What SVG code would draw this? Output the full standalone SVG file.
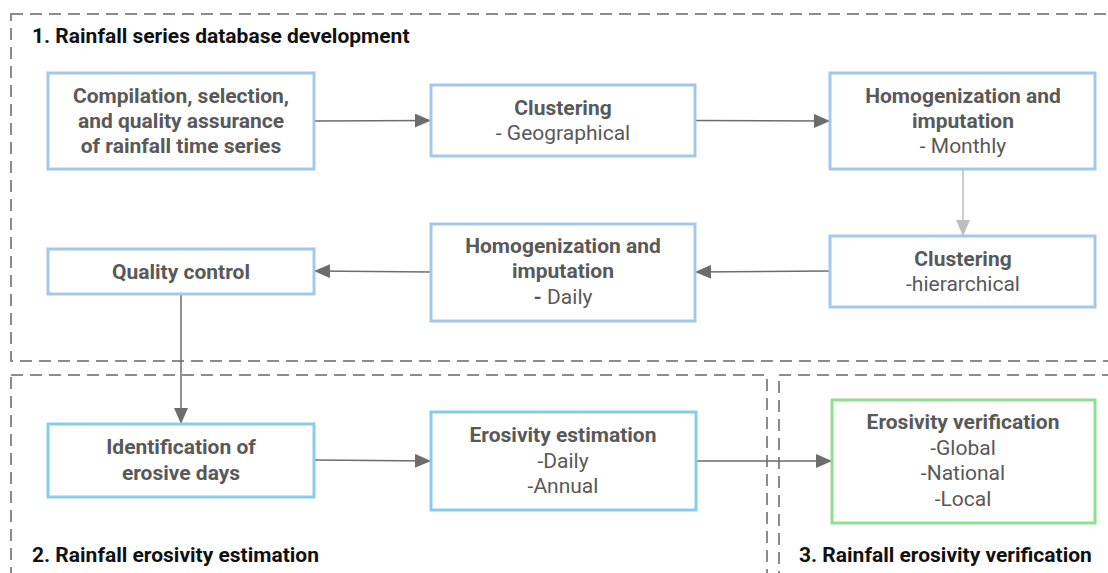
<svg xmlns="http://www.w3.org/2000/svg" width="1108" height="573" viewBox="0 0 1108 573">
<style>
.frame{fill:none;stroke:#8c8c8c;stroke-width:2;stroke-dasharray:12 7}
.box{fill:#fff;stroke:#a4c8ec;stroke-width:3}
.box2{fill:#fff;stroke:#88cbea;stroke-width:3}
.boxg{fill:#fff;stroke:#8fe08f;stroke-width:3}
.t{font-family:Roboto,"Liberation Sans",sans-serif;font-size:21px;fill:#595959;text-anchor:middle}
.b{font-weight:bold}
.h{font-family:Roboto,"Liberation Sans",sans-serif;font-size:21px;font-weight:bold;fill:#111}
.c{fill:none;stroke:#6d6d6d;stroke-width:1.5}
.cl{fill:none;stroke:#bdbdbd;stroke-width:1.5}
</style>
<defs>
<marker id="ah" markerWidth="16" markerHeight="14" refX="16" refY="7" orient="auto" markerUnits="userSpaceOnUse"><path d="M0,0 L16,7 L0,14 Z" fill="#6d6d6d"/></marker>
<marker id="ahl" markerWidth="16" markerHeight="14" refX="16" refY="7" orient="auto" markerUnits="userSpaceOnUse"><path d="M0,0 L16,7 L0,14 Z" fill="#bdbdbd"/></marker>
</defs>
<rect width="1108" height="573" fill="#fff"/>
<g id="frames">
<rect class="frame" x="11" y="14" width="1110" height="347"/>
<rect class="frame" x="11" y="375" width="756" height="220"/>
<rect class="frame" x="779" y="375" width="340" height="220"/>
<text class="h" x="32" y="43">1. Rainfall series database development</text>
<text class="h" x="32" y="562">2. Rainfall erosivity estimation</text>
<text class="h" x="799" y="562">3. Rainfall erosivity verification</text>
</g>
<g id="connectors">
<line class="c" x1="314" y1="121" x2="431" y2="120.5" marker-end="url(#ah)"/>
<line class="c" x1="695" y1="120.5" x2="830" y2="121" marker-end="url(#ah)"/>
<line class="cl" x1="963" y1="169" x2="963" y2="236" marker-end="url(#ahl)"/>
<line class="c" x1="830" y1="271" x2="695" y2="272" marker-end="url(#ah)"/>
<line class="c" x1="431" y1="272" x2="314" y2="271" marker-end="url(#ah)"/>
<line class="c" x1="181" y1="294" x2="181" y2="424" marker-end="url(#ah)"/>
<line class="c" x1="314" y1="460" x2="431" y2="461" marker-end="url(#ah)"/>
<line class="c" x1="696" y1="461" x2="832" y2="461" marker-end="url(#ah)"/>
</g>
<g id="n1"><rect class="box" x="48" y="73" width="266" height="96"/>
<text class="t b" x="181" y="103">Compilation, selection,</text>
<text class="t b" x="181" y="128">and quality assurance</text>
<text class="t b" x="181" y="153">of rainfall time series</text></g>
<g id="n2"><rect class="box" x="431" y="85" width="264" height="71"/>
<text class="t b" x="563" y="115">Clustering</text>
<text class="t" x="563" y="140">- Geographical</text></g>
<g id="n3"><rect class="box" x="830" y="73" width="265" height="96"/>
<text class="t b" x="963" y="103">Homogenization and</text>
<text class="t b" x="963" y="128">imputation</text>
<text class="t" x="963" y="153">- Monthly</text></g>
<g id="n4"><rect class="box" x="830" y="236" width="265" height="71"/>
<text class="t b" x="963" y="266">Clustering</text>
<text class="t" x="963" y="291">-hierarchical</text></g>
<g id="n5"><rect class="box" x="431" y="224" width="264" height="97"/>
<text class="t b" x="563" y="253">Homogenization and</text>
<text class="t b" x="563" y="278">imputation</text>
<text class="t" x="563" y="304"><tspan font-weight="bold">-</tspan> Daily</text></g>
<g id="n6"><rect class="box" x="48" y="249" width="266" height="45"/>
<text class="t b" x="181" y="279">Quality control</text></g>
<g id="n7"><rect class="box2" x="48" y="424" width="266" height="73"/>
<text class="t b" x="181" y="454">Identification of</text>
<text class="t b" x="181" y="480">erosive days</text></g>
<g id="n8"><rect class="box2" x="431" y="412" width="265" height="98"/>
<text class="t b" x="563" y="442">Erosivity estimation</text>
<text class="t" x="563" y="468">-Daily</text>
<text class="t" x="563" y="493">-Annual</text></g>
<g id="n9"><rect class="boxg" x="832" y="400" width="263" height="123"/>
<text class="t b" x="963" y="429">Erosivity verification</text>
<text class="t" x="963" y="455">-Global</text>
<text class="t" x="963" y="480">-National</text>
<text class="t" x="963" y="506">-Local</text></g>
</svg>
